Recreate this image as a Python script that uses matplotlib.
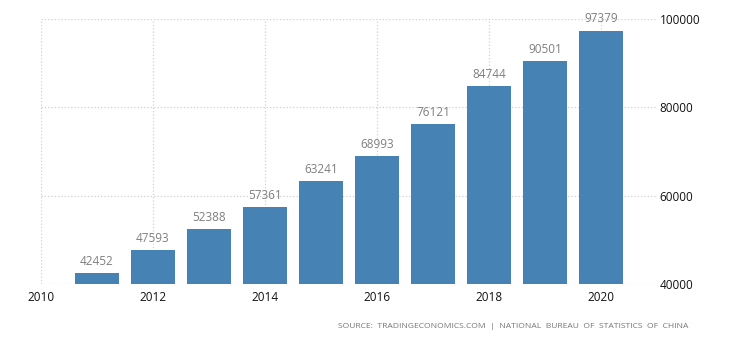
import matplotlib.pyplot as plt

# Yearly values
years = [2011, 2012, 2013, 2014, 2015, 2016, 2017, 2018, 2019, 2020]
values = [42452, 47593, 52388, 57361, 63241, 68993, 76121, 84744, 90501, 97379]
x_ticks = [2010, 2012, 2014, 2016, 2018, 2020]
y_ticks = [40000, 60000, 80000, 100000]

plt.rcParams['font.family'] = ['Open Sans', 'DejaVu Sans']

fig = plt.figure(figsize=(7.32, 3.41), dpi=100)
ax = fig.add_axes([41 / 732, 1 - 284 / 341, 616 / 732, 265 / 341])

ax.bar(years, values, width=0.8, color='#4682b4', zorder=2)

for x, v in zip(years, values):
    ax.text(x, v + 1200, str(v), ha='center', va='bottom',
            fontsize=8.5, color='#7f7f7f')

ax.set_xlim(2010, 2021)
ax.set_ylim(40000, 100000)
ax.set_xticks(x_ticks)
ax.set_yticks(y_ticks)

ax.yaxis.tick_right()
ax.tick_params(axis='both', length=0, labelsize=8.5, colors='#111111')
ax.tick_params(axis='y', pad=2)
ax.tick_params(axis='x', pad=5)

ax.grid(True, color='#d0d0d0', linestyle=':', linewidth=0.9, zorder=0)
for side in ['top', 'right', 'left', 'bottom']:
    ax.spines[side].set_visible(False)

fig.text(688 / 732, 1 - 326 / 341,
         'SOURCE:  TRADINGECONOMICS.COM  |  NATIONAL  BUREAU  OF  STATISTICS  OF  CHINA',
         ha='right', va='center', fontsize=6.1, color='#777777')

fig.savefig('out.png', dpi=100, facecolor='white')
